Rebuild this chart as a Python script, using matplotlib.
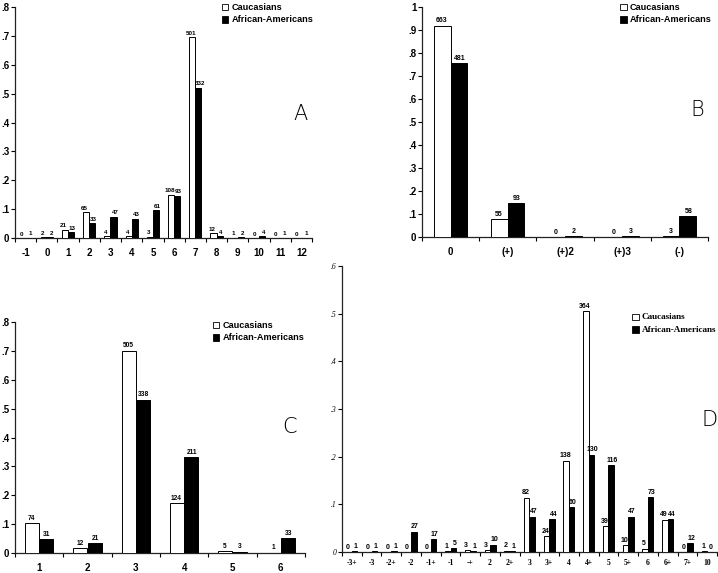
import matplotlib
matplotlib.use('Agg')
import matplotlib.pyplot as plt
from matplotlib.patches import Rectangle
import numpy as np

W, H = 718, 573

# ---- data (counts per category) ----
a_cats = ['-1', '0', '1', '2', '3', '4', '5', '6', '7', '8', '9', '10', '11', '12']
a_cauc = [0, 2, 21, 65, 4, 4, 3, 108, 501, 12, 1, 0, 0, 0]
a_afam = [1, 2, 13, 33, 47, 43, 61, 93, 332, 4, 2, 4, 1, 1]

b_cats = ['0', '(+)', '(+)2', '(+)3', '(-)']
b_cauc = [663, 55, 0, 0, 3]
b_afam = [481, 93, 2, 3, 58]

c_cats = ['1', '2', '3', '4', '5', '6']
c_cauc = [74, 12, 505, 124, 5, 1]
c_afam = [31, 21, 338, 211, 3, 33]

d_cats = ['-3+', '-3', '-2+', '-2', '-1+', '-1', '-+', '2', '2+', '3', '3+',
          '4', '4+', '5', '5+', '6', '6+', '7+', '10']
d_cauc = [0, 0, 0, 0, 0, 1, 3, 3, 2, 82, 24, 138, 364, 39, 10, 5, 49, 0, 1]
d_afam = [1, 1, 1, 27, 17, 5, 1, 10, 1, 47, 44, 60, 130, 116, 47, 73, 44, 12, 0]

series_names = ['Caucasians', 'African-Americans']

fig = plt.figure(figsize=(W / 100, H / 100), dpi=100)
fig.patch.set_facecolor('white')

SANS = 'Liberation Sans'
SERIF = 'Liberation Serif'


def fmt_y(v):
    if abs(v) < 1e-9:
        return '0'
    if abs(v - 1) < 1e-9:
        return '1'
    return ('%.1f' % v)[1:]


def panel(px, cats, cauc, afam, ymax, letter, letter_xy, legend_xy,
          serif=False, tick_fs=7, count_fs=4.8, legend_fs=6.6, ytick_fs=7,
          xpad=7, width=0.29, nudge=0.8):
    l, b, r, t = px
    ax = fig.add_axes([l / W, 1 - b / H, (r - l) / W, (b - t) / H])
    n = len(cats)
    x = np.arange(n)
    pc = np.array(cauc) / sum(cauc)
    pa = np.array(afam) / sum(afam)
    ax.bar(x - width / 2, pc, width, facecolor='white', edgecolor='black',
           linewidth=0.7, zorder=3)
    ax.bar(x + width / 2, pa, width, facecolor='black', edgecolor='black',
           linewidth=0.7, zorder=3)
    cfam = SANS
    for xi, h, c in zip(x - width / 2, pc, cauc):
        ax.annotate(str(c), (xi, h), xytext=(-nudge, 1), textcoords='offset points',
                    ha='center', va='bottom', fontsize=count_fs,
                    fontweight='bold', family=cfam)
    for xi, h, c in zip(x + width / 2, pa, afam):
        ax.annotate(str(c), (xi, h), xytext=(nudge, 1), textcoords='offset points',
                    ha='center', va='bottom', fontsize=count_fs,
                    fontweight='bold', family=cfam)
    ax.set_xlim(-0.5, n - 0.5)
    ax.set_ylim(0, ymax)
    yt = np.round(np.arange(0, ymax + 1e-9, 0.1), 1)
    ax.set_yticks(yt)
    ax.set_yticklabels([fmt_y(v) for v in yt])
    ax.set_xticks(x)
    ax.set_xticklabels(cats)
    ax.set_xticks(np.arange(n + 1) - 0.5, minor=True)
    ax.tick_params(axis='x', which='major', length=0, pad=xpad)
    ax.tick_params(axis='x', which='minor', length=3, width=0.8, direction='out')
    ax.tick_params(axis='y', length=3, width=0.8, direction='out', pad=1)
    fam = SERIF if serif else SANS
    for lab in ax.get_xticklabels():
        lab.set_family(fam)
        lab.set_fontweight('bold')
        lab.set_fontsize(tick_fs)
    for lab in ax.get_yticklabels():
        lab.set_family(fam)
        lab.set_fontweight('bold' if not serif else 'normal')
        lab.set_fontsize(ytick_fs)
        if serif:
            lab.set_style('italic')
    for s in ['top', 'right']:
        ax.spines[s].set_visible(False)
    for s in ['left', 'bottom']:
        ax.spines[s].set_linewidth(0.9)
        ax.spines[s].set_color('#222222')
    ax.set_facecolor('none')

    # panel letter
    fig.text(letter_xy[0] / W, 1 - letter_xy[1] / H, letter, fontsize=15,
             family='DejaVu Sans', fontweight='light', ha='center', va='center')

    # legend
    lx, ly = legend_xy
    sq = 6.5
    for i, (name, fc) in enumerate(zip(series_names, ['white', 'black'])):
        yy = ly + i * 12.5
        fig.patches.append(Rectangle(((lx) / W, 1 - (yy + sq / 2) / H),
                                     sq / W, sq / H, facecolor=fc,
                                     edgecolor='black', linewidth=0.6,
                                     transform=fig.transFigure, figure=fig))
        fig.text((lx + sq + 3) / W, 1 - yy / H, name, fontsize=legend_fs,
                 family=fam, fontweight='bold', ha='left', va='center')
    return ax


# Panel A
panel((15, 238, 312, 7), a_cats, a_cauc, a_afam, 0.8, 'A', (300, 114),
      (222, 7), tick_fs=7, count_fs=4.5, nudge=1.0)
# Panel B
panel((422, 237, 708, 7), b_cats, b_cauc, b_afam, 1.0, 'B', (697, 110),
      (620, 7), tick_fs=7, count_fs=5, nudge=0.5)
# Panel C
panel((15, 553, 305, 322), c_cats, c_cauc, c_afam, 0.8, 'C', (290, 427),
      (213, 325), tick_fs=7, count_fs=4.8, nudge=0.5)
# Panel D
panel((342, 552, 717, 266), d_cats, d_cauc, d_afam, 0.6, 'D', (710, 420),
      (632, 317), serif=True, tick_fs=5.5, count_fs=5.0, legend_fs=6.6,
      ytick_fs=5.5, xpad=5, width=0.28, nudge=0.9)

fig.savefig('out.png', dpi=100)
